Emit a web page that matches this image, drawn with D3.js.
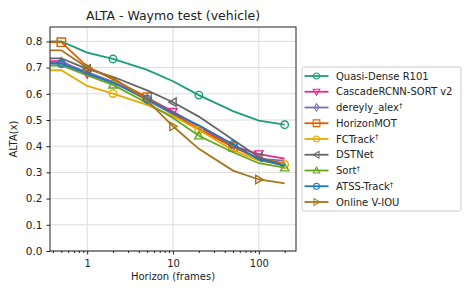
<!DOCTYPE html>
<html>
<head>
<meta charset="utf-8">
<script src="https://cdn.jsdelivr.net/npm/d3@7"></script>
<style>
  body { margin: 0; background: #fff; }
  text { font-family: "DejaVu Sans", sans-serif; fill: #222; }
</style>
</head>
<body>
<div id="chart"></div>
<script>
var width = 472;
var height = 295;

// Horizon values (frames) on the log x axis
var horizons = [0.5, 1, 2, 5, 10, 20, 50, 100, 200];

// ALTA values per tracker
var quasiDense = [0.800, 0.757, 0.733, 0.691, 0.648, 0.595, 0.534, 0.498, 0.482];
var cascadeSort = [0.725, 0.676, 0.645, 0.585, 0.532, 0.475, 0.400, 0.370, 0.353];
var dereyly = [0.720, 0.683, 0.646, 0.576, 0.522, 0.465, 0.398, 0.352, 0.345];
var horizonMot = [0.797, 0.704, 0.655, 0.587, 0.525, 0.465, 0.398, 0.352, 0.335];
var fcTrack = [0.690, 0.630, 0.601, 0.558, 0.515, 0.462, 0.385, 0.345, 0.330];
var dstNet = [0.735, 0.695, 0.665, 0.613, 0.568, 0.513, 0.425, 0.358, 0.325];
var sortTrack = [0.708, 0.670, 0.634, 0.565, 0.508, 0.440, 0.377, 0.335, 0.318];
var atssTrack = [0.715, 0.677, 0.642, 0.580, 0.527, 0.480, 0.407, 0.350, 0.325];
var onlineViou = [0.766, 0.700, 0.661, 0.575, 0.476, 0.390, 0.307, 0.273, 0.258];

var names = ["Quasi-Dense R101", "CascadeRCNN-SORT v2", "dereyly_alex", "HorizonMOT",
  "FCTrack", "DSTNet", "Sort", "ATSS-Track", "Online V-IOU"];
var dagger = [false, false, true, false, true, false, true, true, false];
var values = [quasiDense, cascadeSort, dereyly, horizonMot, fcTrack, dstNet, sortTrack, atssTrack, onlineViou];

var yTicks = [0.0, 0.1, 0.2, 0.3, 0.4, 0.5, 0.6, 0.7, 0.8];
var xTicks = [1, 10, 100];

// styles for each series
var colors = ["#1b9e77", "#e7298a", "#7570b3", "#d95f02", "#e6ab02", "#666666", "#66a61e", "#1f78b4", "#a6761d"];
var markers = ["circle", "tdown", "diamond", "square", "circle", "tleft", "tup", "circle", "tright"];
var markStart = [2, 1, 0, 0, 2, 1, 2, 0, 1];

var margin = { top: 27, left: 50, right: 176, bottom: 44 };

var svg = d3.select("#chart").append("svg")
  .attr("width", width)
  .attr("height", height);

var x = d3.scaleLog()
  .domain([0.369, 271])
  .range([margin.left, width - margin.right]);

var y = d3.scaleLinear()
  .domain([0, 0.855])
  .range([height - margin.bottom, margin.top]);

// Grid
svg.append("g").selectAll("line").data(xTicks).enter().append("line")
  .attr("x1", function (d) { return x(d); })
  .attr("x2", function (d) { return x(d); })
  .attr("y1", y.range()[0]).attr("y2", y.range()[1])
  .attr("stroke", "#dcdcdc").attr("stroke-width", 1);
svg.append("g").selectAll("line").data(yTicks).enter().append("line")
  .attr("y1", function (d) { return y(d); })
  .attr("y2", function (d) { return y(d); })
  .attr("x1", x.range()[0]).attr("x2", x.range()[1])
  .attr("stroke", "#dcdcdc").attr("stroke-width", 1);

// Axes
var minorTicks = x.ticks().filter(function (d) { return xTicks.indexOf(d) < 0; });

svg.append("g")
  .attr("transform", "translate(0," + y.range()[0] + ")")
  .call(d3.axisBottom(x).tickValues(minorTicks).tickSize(2).tickFormat(""))
  .call(function (g) { g.select(".domain").remove(); });

var xAxis = svg.append("g")
  .attr("transform", "translate(0," + y.range()[0] + ")")
  .call(d3.axisBottom(x).tickValues(xTicks).tickSize(3.5).tickFormat(d3.format("d")));
xAxis.select(".domain").remove();
xAxis.selectAll("text").attr("font-size", 10).attr("dy", "0.9em").style("font-family", "DejaVu Sans");

var yAxis = svg.append("g")
  .attr("transform", "translate(" + x.range()[0] + ",0)")
  .call(d3.axisLeft(y).tickValues(yTicks).tickSize(3.5).tickFormat(d3.format(".1f")));
yAxis.select(".domain").remove();
yAxis.selectAll("text").attr("font-size", 10.5).attr("dx", "-0.1em").style("font-family", "DejaVu Sans");
svg.selectAll(".tick line").attr("stroke", "#222");

// Lines, starting flat from the left edge of the axes
var line = d3.line()
  .x(function (d) { return x(d[0]); })
  .y(function (d) { return y(d[1]); });

function markerPath(type) {
  var s = 4.2;
  if (type === "square") return "M" + -s + "," + -s + "H" + s + "V" + s + "H" + -s + "Z";
  if (type === "diamond") return "M0," + -s * 1.15 + "L" + s * 0.7 + ",0L0," + s * 1.15 + "L" + -s * 0.7 + ",0Z";
  if (type === "tdown") return "M" + -s + "," + -s * 0.75 + "H" + s + "L0," + s + "Z";
  if (type === "tup") return "M" + -s + "," + s * 0.75 + "H" + s + "L0," + -s + "Z";
  if (type === "tleft") return "M" + s * 0.75 + "," + -s + "V" + s + "L" + -s + ",0Z";
  if (type === "tright") return "M" + -s * 0.75 + "," + -s + "V" + s + "L" + s + ",0Z";
  return d3.symbol().type(d3.symbolCircle).size(44)();
}

values.forEach(function (vals, i) {
  var pts = horizons.map(function (h, j) { return [h, vals[j]]; });
  var drawn = [[x.domain()[0], vals[0]]].concat(pts);
  svg.append("path")
    .datum(drawn)
    .attr("d", line)
    .attr("fill", "none")
    .attr("stroke", colors[i])
    .attr("stroke-width", 1.8);
  svg.append("g").selectAll("path")
    .data(pts.filter(function (p, j) { return j % 3 === markStart[i]; }))
    .enter().append("path")
    .attr("transform", function (d) { return "translate(" + x(d[0]) + "," + y(d[1]) + ")"; })
    .attr("d", markerPath(markers[i]))
    .attr("fill", "none")
    .attr("stroke", colors[i])
    .attr("stroke-width", 1.4);
});

// Frame
svg.append("rect")
  .attr("x", x.range()[0]).attr("y", y.range()[1])
  .attr("width", x.range()[1] - x.range()[0])
  .attr("height", y.range()[0] - y.range()[1])
  .attr("fill", "none").attr("stroke", "#222").attr("stroke-width", 1);

// Title and labels
svg.append("text")
  .attr("x", (x.range()[0] + x.range()[1]) / 2).attr("y", 20)
  .attr("text-anchor", "middle").attr("font-size", 12.5)
  .text("ALTA - Waymo test (vehicle)");

svg.append("text")
  .attr("x", (x.range()[0] + x.range()[1]) / 2).attr("y", 280)
  .attr("text-anchor", "middle").attr("font-size", 10)
  .text("Horizon (frames)");

svg.append("text")
  .attr("transform", "translate(17," + (y.range()[0] + y.range()[1]) / 2 + ")rotate(-90)")
  .attr("text-anchor", "middle").attr("font-size", 10)
  .text("ALTA(x)");

// Legend
var legend = svg.append("g").attr("transform", "translate(302,67)");
legend.append("rect")
  .attr("width", 159).attr("height", 144).attr("rx", 2)
  .attr("fill", "#fff").attr("stroke", "#ccc");

names.forEach(function (name, i) {
  var row = legend.append("g").attr("transform", "translate(0," + (9 + i * 15.75) + ")");
  row.append("line")
    .attr("x1", 2.5).attr("x2", 26.5)
    .attr("stroke", colors[i]).attr("stroke-width", 1.8);
  row.append("path")
    .attr("transform", "translate(14.5,0)scale(0.8)")
    .attr("d", markerPath(markers[i]))
    .attr("fill", "none").attr("stroke", colors[i]).attr("stroke-width", 1.3);
  var t = row.append("text")
    .attr("x", 34).attr("dy", "0.35em").attr("font-size", 10)
    .text(name);
  if (dagger[i]) {
    t.append("tspan").attr("dy", "-0.45em").attr("font-size", 7).text("\u2020");
  }
});
</script>
</body>
</html>
